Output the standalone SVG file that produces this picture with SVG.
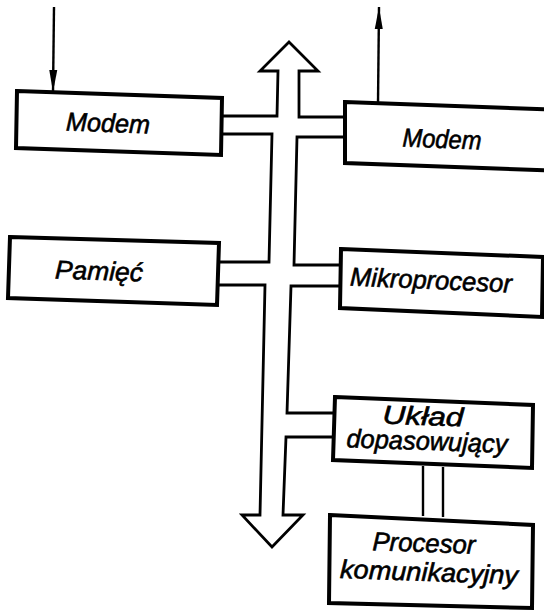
<svg xmlns="http://www.w3.org/2000/svg" width="544" height="615" viewBox="0 0 544 615">
<style>
.box{fill:#fff;stroke:#000;stroke-width:4;stroke-linejoin:miter}
.bus{fill:none;stroke:#000;stroke-width:2.8;stroke-linejoin:miter}
.ln{fill:none;stroke:#000;stroke-width:2.4}
.t{font-family:"Liberation Sans",Arial,sans-serif;font-style:italic;font-size:26px;fill:#000;stroke:#000;stroke-width:0.6;text-anchor:middle}
</style>
<defs>
<marker id="ah2" viewBox="0 0 22 10" refX="22" refY="5" markerWidth="22" markerHeight="10" markerUnits="userSpaceOnUse" orient="auto">
<path d="M0,1 L22,5 L0,9 Z" fill="#000"/>
</marker>
</defs>
<g id="connectors">
<path class="bus" d="M222,116 L277,116 L278,71 L260,71 L289,42 L318,71 L299,71 L299,117 L345,117"/>
<path class="bus" d="M345,137 L297,137 L294,265 L341,265"/>
<path class="bus" d="M340,286 L291,286 L287,413 L335,413"/>
<path class="bus" d="M333,437 L286,437 L283,515 L303,515 L272,547 L242,515 L260,515 L265,285 L217,285"/>
<path class="bus" d="M219,262 L269,262 L272,134 L222,134"/>
<line class="ln" x1="423" y1="466" x2="423" y2="516"/>
<line class="ln" x1="443" y1="467" x2="443" y2="517"/>
<line class="ln" x1="54" y1="7" x2="53" y2="92" marker-end="url(#ah2)"/>
<line class="ln" x1="378" y1="103" x2="379" y2="7" marker-end="url(#ah2)"/>
</g>
<g id="modem-in">
<polygon class="box" points="17,91 222,98 221,155 16,148"/>
<text class="t" x="108" y="132" textLength="84" lengthAdjust="spacingAndGlyphs" transform="rotate(2 108 123)">Modem</text>
</g>
<g id="modem-out">
<polygon class="box" points="345,102 564,110 564,171 345,163"/>
<text class="t" x="442" y="148" textLength="79" lengthAdjust="spacingAndGlyphs" transform="rotate(2 442 139)">Modem</text>
</g>
<g id="pamiec">
<polygon class="box" points="10,237 219,243 217,305 8,298"/>
<text class="t" x="99" y="280" textLength="88" lengthAdjust="spacingAndGlyphs" transform="rotate(2 99 271)">Pamięć</text>
</g>
<g id="mikroprocesor">
<polygon class="box" points="341,249 543,257 542,317 340,308"/>
<text class="t" x="431" y="289" textLength="162" lengthAdjust="spacingAndGlyphs" transform="rotate(2.5 431 280)">Mikroprocesor</text>
</g>
<g id="uklad">
<polygon class="box" points="335,397 533,405 532,468 333,460"/>
<text class="t" x="423" y="425" textLength="81" lengthAdjust="spacingAndGlyphs" transform="rotate(2 423 416)">Układ</text>
<text class="t" x="427" y="450" textLength="161" lengthAdjust="spacingAndGlyphs" transform="rotate(2 427 441)">dopasowujący</text>
</g>
<g id="procesor">
<polygon class="box" points="330,515 533,525 532,608 329,603"/>
<text class="t" x="424" y="552" textLength="103" lengthAdjust="spacingAndGlyphs" transform="rotate(2 424 543)">Procesor</text>
<text class="t" x="429" y="581" textLength="178" lengthAdjust="spacingAndGlyphs" transform="rotate(2 429 572)">komunikacyjny</text>
</g>
</svg>
